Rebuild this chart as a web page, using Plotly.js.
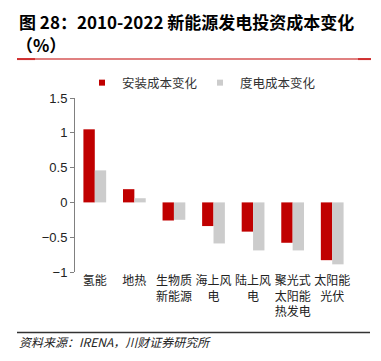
<!DOCTYPE html>
<html>
<head>
<meta charset="utf-8">
<script src="https://cdn.plot.ly/plotly-3.0.1.min.js"></script>
<style>body{margin:0;background:#fff}#chart{width:381px;height:361px}</style>
</head>
<body>
<div id="chart"></div>
<script>
const categories = ["氢能", "地热", "生物质<br>新能源", "海上风<br>电", "陆上风<br>电", "聚光式<br>太阳能<br>热发电", "太阳能<br>光伏"];
const installCost = [1.05, 0.19, -0.26, -0.34, -0.42, -0.58, -0.83];
const lcoeCost = [0.46, 0.06, -0.25, -0.59, -0.69, -0.69, -0.89];
const seriesNames = ["安装成本变化", "度电成本变化"];
const seriesColors = ['#C00000', '#CCCCCC'];
const yTicks = [-1, -0.5, 0, 0.5, 1, 1.5];
const yTickText = ["−1", "−0.5", "0", "0.5", "1", "1.5"];

const cjk = '"Noto Sans CJK SC", sans-serif';
const traces = [
  {type: 'bar', x: categories, y: installCost, name: seriesNames[0], marker: {color: seriesColors[0]}, showlegend: false},
  {type: 'bar', x: categories, y: lcoeCost, name: seriesNames[1], marker: {color: seriesColors[1]}, showlegend: false},
  {type: 'scatter', mode: 'markers', x: [null], y: [null], name: seriesNames[0], marker: {symbol: 'square', size: 6, color: seriesColors[0], line: {width: 0}}, showlegend: true},
  {type: 'scatter', mode: 'markers', x: [null], y: [null], name: seriesNames[1], marker: {symbol: 'square', size: 6, color: seriesColors[1], line: {width: 0}}, showlegend: true}
];
const L = 75, R = 352, T = 98, B = 272.3;
const px = v => (v - L) / (R - L);
const py = v => (B - v) / (B - T);
const layout = {
  width: 381, height: 361,
  margin: {l: L, r: 381 - R, t: T, b: 361 - B},
  paper_bgcolor: '#fff', plot_bgcolor: '#fff',
  barmode: 'group', bargap: 0.425, bargroupgap: 0,
  showlegend: true,
  legend: {orientation: 'h', x: px(82), xanchor: 'left', y: py(83), yanchor: 'middle',
    font: {family: cjk, size: 12.5, color: '#333'}, entrywidth: 73, itemwidth: 30},
  xaxis: {type: 'category', showline: false, ticks: '', showgrid: false, zeroline: false, tickangle: 0,
    tickfont: {family: cjk, size: 12, color: '#222'}, fixedrange: true},
  xaxis2: {type: 'category', matches: 'x', overlaying: 'x', anchor: 'free', position: 0.4,
    showline: true, linecolor: '#808080', linewidth: 1, ticks: 'inside', tickson: 'boundaries',
    ticklen: 4, tickcolor: '#808080', showticklabels: false, showgrid: false, zeroline: false},
  yaxis: {range: [-1, 1.5], tickvals: yTicks, ticktext: yTickText, showgrid: false, zeroline: false,
    showline: true, linecolor: '#808080', ticks: 'outside', ticklen: 4, tickcolor: '#808080',
    tickfont: {family: '"Liberation Sans", Arial, sans-serif', size: 13, color: '#222'}},
  annotations: [
    {text: '<b>图 28：2010-2022 新能源发电投资成本变化</b>', xref: 'paper', yref: 'paper', x: px(17), y: py(21),
      xanchor: 'left', yanchor: 'middle', showarrow: false, font: {family: cjk, size: 17, color: '#000'}},
    {text: '<b>（%）</b>', xref: 'paper', yref: 'paper', x: px(14), y: py(44),
      xanchor: 'left', yanchor: 'middle', showarrow: false, font: {family: cjk, size: 17, color: '#000'}},
    {text: '<i>资料来源：IRENA，川财证券研究所</i>', xref: 'paper', yref: 'paper', x: px(17), y: py(342),
      xanchor: 'left', yanchor: 'middle', showarrow: false, font: {family: cjk, size: 12, color: '#222'}}
  ],
  shapes: [
    {type: 'line', xref: 'paper', yref: 'paper', x0: px(17), x1: px(371), y0: py(59), y1: py(59),
      line: {color: '#E08080', width: 2}},
    {type: 'line', xref: 'paper', yref: 'paper', x0: px(17), x1: px(35), y0: py(59), y1: py(59),
      line: {color: '#D03030', width: 2}},
    {type: 'line', xref: 'paper', yref: 'paper', x0: px(358), x1: px(371), y0: py(59), y1: py(59),
      line: {color: '#D03030', width: 2}},
    {type: 'line', xref: 'paper', yref: 'paper', x0: px(17), x1: px(370), y0: py(333), y1: py(333),
      line: {color: '#333', width: 1.5}}
  ]
};
Plotly.newPlot('chart', traces, layout, {staticPlot: true});
</script>
</body>
</html>
